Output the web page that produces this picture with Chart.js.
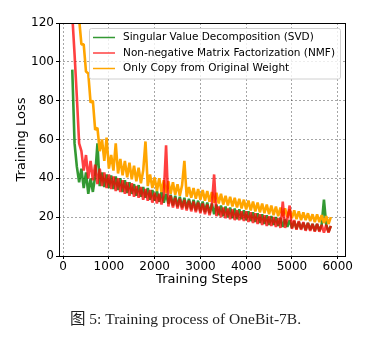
<!DOCTYPE html>
<html>
<head>
<meta charset="utf-8">
<script src="https://cdn.jsdelivr.net/npm/chart.js@4.4.0/dist/chart.umd.min.js"></script>
<style>
  body { margin: 0; background: #fff; }
  #wrap { position: relative; width: 371px; height: 343px; }
  #caption {
    position: absolute; left: 0; top: 306px; width: 371px; text-align: center;
    font-family: "Liberation Serif", "Noto Sans CJK SC", serif; font-size: 15.5px; color: #222;
  }
</style>
</head>
<body>
<div id="wrap">
  <canvas id="lossChart" width="371" height="343"></canvas>
  <div id="caption">图 5: Training process of OneBit-7B.</div>
</div>
<script>
const seriesNames = ['Singular Value Decomposition (SVD)', 'Non-negative Matrix Factorization (NMF)', 'Only Copy from Original Weight'];
const xTicks = [0, 1000, 2000, 3000, 4000, 5000, 6000];
const yTicks = [0, 20, 40, 60, 80, 100, 120];

const steps = [150, 200, 250, 300, 350, 400, 450, 500, 550, 600, 650, 700, 750, 800, 850, 900, 950,
  1000, 1050, 1100, 1150, 1200, 1250, 1300, 1350, 1400, 1450, 1500, 1550, 1600, 1650, 1700, 1750, 1800, 1850, 1900, 1950,
  2000, 2050, 2100, 2150, 2200, 2250, 2300, 2350, 2400, 2450, 2500, 2550, 2600, 2650, 2700, 2750, 2800, 2850, 2900, 2950,
  3000, 3050, 3100, 3150, 3200, 3250, 3300, 3350, 3400, 3450, 3500, 3550, 3600, 3650, 3700, 3750, 3800, 3850, 3900, 3950,
  4000, 4050, 4100, 4150, 4200, 4250, 4300, 4350, 4400, 4450, 4500, 4550, 4600, 4650, 4700, 4750, 4800, 4850, 4900, 4950,
  5000, 5050, 5100, 5150, 5200, 5250, 5300, 5350, 5400, 5450, 5500, 5550, 5600, 5650, 5700, 5750, 5800, 5850];

const svdLoss = [null, 96, 58, 46, 38, 45, 35, 43, 32, 40, 33, 41, 58, 36, 43, 35.5, 42,
  35, 41.5, 34.5, 41, 34, 40, 33, 39, 32.5, 38, 32, 37, 31, 36.5, 30.5, 35.5, 30, 35, 29, 34,
  28.5, 33.5, 28, 33, 27.5, 32, 27, 31.5, 26, 31, 25.5, 30.5, 25, 30, 24.5, 29.5, 24, 29, 23.5, 28.5,
  23, 28, 22.5, 27.5, 22, 27, 21.5, 26.5, 21, 26, 20.5, 25.5, 20, 25, 19.5, 24.5, 19, 24, 19, 23.5,
  18.5, 23, 18, 22.5, 17.5, 22, 17, 21.5, 16.5, 21, 16, 20.5, 16, 20, 15.5, 19.5, 15, 19, 15, 18.5,
  14.5, 18, 14, 17.5, 14, 17, 13.5, 17, 13.5, 16.5, 13, 16.5, 13, 16, 29, 16, 12.5, 15.5];

const nmfLoss = [140, 124, 104, 82, 58, 54, 44, 52, 40, 49, 39, 47, 37, 45, 36, 43, 35,
  42, 34.5, 41, 33.5, 40, 33, 39, 32, 38, 31, 37.5, 30.5, 36, 30, 35.5, 29, 34.5, 28.5, 34, 27.5,
  32.5, 27, 32, 26.5, 31.5, 57, 25.5, 31, 25, 30, 24.5, 29.5, 24, 29, 23.5, 28.5, 23, 28, 22.5, 27.5,
  22, 27, 21.5, 26.5, 21, 26, 42, 20.5, 25.5, 20, 25, 19.5, 24.5, 19, 24, 18.5, 23.5, 18.5, 23, 18,
  23, 17.5, 22.5, 17, 22, 16.5, 21.5, 16, 21, 15.5, 20.5, 15.5, 20, 15, 19.5, 14.5, 28, 14.5, 19, 26,
  14, 18.5, 13.5, 18, 13.5, 17.5, 13, 17, 13, 16.5, 12.5, 16.5, 12.5, 16, 12, 16, 12, 15.5];

const copyLoss = [172, 158, 142, 130, 122, 109, 109, 95, 94, 79, 80, 65, 66, 54, 60, 49, 61,
  45, 52, 44, 58, 42.5, 50, 41.5, 49, 40.5, 48, 39.5, 46.5, 38.5, 45.5, 37.5, 44, 59, 36, 42, 35,
  40.5, 33.5, 40, 33, 39, 32.5, 38.5, 32, 38, 31.5, 37, 31, 36.5, 49, 30.5, 35.5, 30, 35, 29.5, 34.5,
  29, 34, 28.5, 33.5, 28, 33, 27.5, 32.5, 27, 32, 26.5, 31, 26, 30.5, 25.5, 30, 25, 29.5, 24.5, 29,
  24, 28.5, 23.5, 28, 23, 27.5, 22.5, 27, 22, 26.5, 21.5, 26, 21, 25.5, 20.5, 25, 20.5, 24.5, 20, 24,
  19.5, 23.5, 19, 23, 18.5, 22.5, 18.5, 22, 18, 21.5, 17.5, 21.5, 17.5, 21, 17, 20.5, 16.5, 20];

function toPoints(values) {
  return steps.map(function(s, i) { return { x: s, y: values[i] }; });
}

const tickFont = { family: 'DejaVu Sans', size: 12 };
const titleFont = { family: 'DejaVu Sans', size: 13 };

// matplotlib style legend box inside the plot, plus the black frame
const boxLegend = {
  id: 'boxLegend',
  afterDatasetsDraw(chart) {
    const ctx = chart.ctx;
    const area = chart.chartArea;
    ctx.save();
    ctx.font = '10.5px "DejaVu Sans"';
    let maxW = 0;
    chart.data.datasets.forEach(function(ds) {
      maxW = Math.max(maxW, ctx.measureText(ds.label).width);
    });
    const rowH = 15.5;
    const w = 4 + 22 + 8 + maxW + 5;
    const h = rowH * 3 + 4;
    const x0 = area.right - 5 - w;
    const y0 = area.top + 5;
    ctx.fillStyle = 'rgba(255,255,255,0.8)';
    ctx.strokeStyle = '#d0d0d0';
    ctx.lineWidth = 1;
    ctx.beginPath();
    ctx.roundRect(x0 + 0.5, y0 + 0.5, w, h, 2);
    ctx.fill();
    ctx.stroke();
    chart.data.datasets.forEach(function(ds, i) {
      const yc = y0 + 9.5 + i * rowH;
      ctx.strokeStyle = ds.borderColor;
      ctx.lineWidth = 1.5;
      ctx.beginPath();
      ctx.moveTo(x0 + 4, yc);
      ctx.lineTo(x0 + 26, yc);
      ctx.stroke();
      ctx.fillStyle = '#000';
      ctx.textBaseline = 'middle';
      ctx.fillText(ds.label, x0 + 34, yc);
    });
    ctx.restore();
  },
  afterDraw(chart) {
    const ctx = chart.ctx;
    const a = chart.chartArea;
    ctx.save();
    ctx.strokeStyle = '#000';
    ctx.lineWidth = 1;
    ctx.strokeRect(Math.round(a.left) + 0.5, Math.round(a.top) + 0.5, Math.round(a.right - a.left), Math.round(a.bottom - a.top));
    ctx.restore();
  }
};

const plainLabel = function(value) { return String(value); };

new Chart(document.getElementById('lossChart').getContext('2d'), {
  type: 'line',
  data: {
    datasets: [
      { label: seriesNames[0], data: toPoints(svdLoss), borderColor: 'rgba(0,128,0,0.8)', borderWidth: 2.6, order: 2 },
      { label: seriesNames[1], data: toPoints(nmfLoss), borderColor: 'rgba(255,0,0,0.75)', borderWidth: 2.6, order: 0 },
      { label: seriesNames[2], data: toPoints(copyLoss), borderColor: '#ffa500', borderWidth: 2.6, order: 1 }
    ]
  },
  options: {
    responsive: false,
    animation: false,
    devicePixelRatio: 1,
    elements: { point: { radius: 0 }, line: { tension: 0, borderJoinStyle: 'bevel' } },
    layout: { padding: { left: 0, top: 23, right: 26, bottom: 47 } },
    plugins: { legend: { display: false }, tooltip: { enabled: false } },
    scales: {
      x: {
        type: 'linear',
        min: -90,
        max: 6160,
        afterBuildTicks: function(scale) { scale.ticks = xTicks.map(function(v) { return { value: v }; }); },
        afterFit: function(scale) { scale.height = 40; },
        grid: { color: 'rgba(0,0,0,0.35)', tickColor: '#000', tickLength: 3, tickBorderDash: [] },
        border: { display: false, dash: [2, 2] },
        ticks: { font: tickFont, color: '#000', padding: 1, maxRotation: 0, callback: plainLabel },
        title: { display: true, text: 'Training Steps', font: titleFont, color: '#000', padding: { top: 0, bottom: 9 } }
      },
      y: {
        min: 0,
        max: 120,
        afterBuildTicks: function(scale) { scale.ticks = yTicks.map(function(v) { return { value: v }; }); },
        afterFit: function(scale) { scale.width = 59; },
        grid: { color: 'rgba(0,0,0,0.35)', tickColor: '#000', tickLength: 3, tickBorderDash: [] },
        border: { display: false, dash: [2, 2] },
        ticks: { font: tickFont, color: '#000', padding: 2, callback: plainLabel },
        title: { display: true, text: 'Training Loss', font: titleFont, color: '#000', padding: { top: 14, bottom: 0 } }
      }
    }
  },
  plugins: [boxLegend]
});
</script>
</body>
</html>
